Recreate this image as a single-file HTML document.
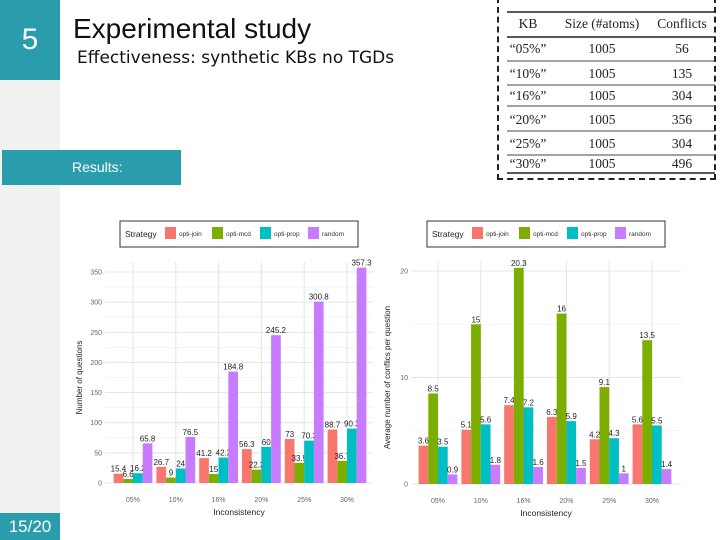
<!DOCTYPE html>
<html><head><meta charset="utf-8"><style>
body{margin:0;width:720px;height:540px;overflow:hidden;background:#fff;font-family:"Liberation Sans",sans-serif;position:relative}
.abs{position:absolute}
</style></head><body>
<div class="abs" style="left:0;top:0;width:60px;height:540px;background:#f1f1f1"></div>
<div class="abs" style="left:0;top:0;width:60px;height:80px;background:#2a9dad;color:#fff;font-size:30px;text-align:center;line-height:80px">5</div>
<div class="abs" style="left:73px;top:13px;font-size:28px;color:#111">Experimental study</div>
<div class="abs" style="left:77px;top:48px;font-size:17px;color:#111;font-family:'DejaVu Sans',sans-serif;letter-spacing:0px">Effectiveness: synthetic KBs no TGDs</div>
<div class="abs" style="left:2px;top:150px;width:179px;height:35px;background:#2a9dad;color:#fff;font-size:14px;line-height:35px;text-align:left;padding-left:70px;box-sizing:border-box">Results:</div>
<div class="abs" style="left:0;top:513px;width:60px;height:27px;background:#2a9dad;color:#fff;font-size:17px;text-align:center;line-height:27px;font-weight:300">15/20</div>
<div class="abs" style="left:497px;top:-3px;width:219px;height:183px;border:2px dashed #222;border-top:none;box-sizing:border-box"></div>
<svg class="abs" style="left:0;top:0" width="720" height="540" id="svg"></svg>
<script>
const kbs=["“05%”","“10%”","“16%”","“20%”","“25%”","“30%”"];
const sizes=[1005,1005,1005,1005,1005,1005];
const conflicts=[56,135,304,356,304,496];
const categories=["05%","10%","16%","20%","25%","30%"];
const seriesNames=["opti-join","opti-mcd","opti-prop","random"];
const colors=["#F8766D","#7CAE00","#00BFC4","#C77CFF"];
const qJoin=[15.4,26.7,41.2,56.3,73,88.7];
const qMcd=[6.6,9,15,22.2,33.5,36.7];
const qProp=[16.2,24,42.2,60,70.3,90.3];
const qRandom=[65.8,76.5,184.8,245.2,300.8,357.3];
const cJoin=[3.6,5.1,7.4,6.3,4.2,5.6];
const cMcd=[8.5,15,20.3,16,9.1,13.5];
const cProp=[3.5,5.6,7.2,5.9,4.3,5.5];
const cRandom=[0.9,1.8,1.6,1.5,1,1.4];
const leftTicks=[0,50,100,150,200,250,300,350];
const rightTicks=[0,10,20];

const svg=document.getElementById('svg');
const NS="http://www.w3.org/2000/svg";
function mk(tag,attrs,parent,txt){const e=document.createElementNS(NS,tag);for(const k in attrs)e.setAttribute(k,attrs[k]);if(txt!==undefined)e.textContent=txt;(parent||svg).appendChild(e);return e;}

const tg=mk('g',{});


[12,37,173].forEach(y=>mk('line',{x1:507,x2:715,y1:y,y2:y,stroke:'#222','stroke-width':1.5},tg));
[61,85,106,131,155].forEach(y=>mk('line',{x1:507,x2:715,y1:y,y2:y,stroke:'#444','stroke-width':1},tg));
const colX=[528,602,682];
["KB","Size (#atoms)","Conflicts"].forEach((h,i)=>mk('text',{x:colX[i],y:28,'text-anchor':'middle','font-family':'Liberation Serif,serif','font-size':13.5,fill:'#222'},tg,h));
const rowY=[53,78,100,124,148,168];
kbs.forEach((k,i)=>{
 mk('text',{x:colX[0],y:rowY[i],'text-anchor':'middle','font-family':'Liberation Serif,serif','font-size':13.5,fill:'#222'},tg,k);
 mk('text',{x:colX[1],y:rowY[i],'text-anchor':'middle','font-family':'Liberation Serif,serif','font-size':13.5,fill:'#222'},tg,sizes[i]);
 mk('text',{x:colX[2],y:rowY[i],'text-anchor':'middle','font-family':'Liberation Serif,serif','font-size':13.5,fill:'#222'},tg,conflicts[i]);
});

function chart(o){
 const g=mk('g',{});
 
 
 const yS=v=>o.y0-(v/o.max)*(o.y0-o.yTop);
 const xS=i=>o.c0+i*o.step;
 for(let v=0;v<=o.gmax;v+=o.minor)mk('line',{x1:o.pl,x2:o.pr,y1:yS(v),y2:yS(v),stroke:'#eeeeee','stroke-width':0.6},g);
 o.ticks.forEach(v=>{mk('line',{x1:o.pl,x2:o.pr,y1:yS(v),y2:yS(v),stroke:'#e4e4e4','stroke-width':1},g);
  const t=mk('text',{x:o.pl-3,y:yS(v)+2.5,'text-anchor':'end','font-size':7,fill:'#666'},g,v);
  });
 categories.forEach((c,i)=>{mk('line',{x1:xS(i),x2:xS(i),y1:o.y0+4,y2:o.yTop-10,stroke:'#e4e4e4','stroke-width':1},g);
  const t=mk('text',{x:xS(i),y:o.y0+19,'text-anchor':'middle','font-size':7,fill:'#666'},g,c);
  });
 const bw=9.7;
 o.series.forEach((s,si)=>{s.forEach((v,i)=>{
  const x=xS(i)-2*bw+si*bw;
  const r=mk('rect',{x:x,y:yS(v),width:bw,height:o.y0-yS(v),fill:colors[si]},g);
  
  
  mk('text',{x:x+bw/2,y:yS(v)-2,'text-anchor':'middle','font-size':8,fill:'#222'},g,v);
 });});
 const xt=mk('text',{x:(o.pl+o.pr)/2,y:o.y0+32,'text-anchor':'middle','font-size':8.5,fill:'#222'},g,'Inconsistency');
 
 const yt=mk('text',{x:0,y:0,'text-anchor':'middle','font-size':8,fill:'#222',transform:`translate(${o.ytx},${(o.y0+o.yTop)/2}) rotate(-90)`},g,o.ytitle);
 
 const lg=mk('g',{},g);
 
 mk('rect',{x:o.lx,y:221,width:238,height:26,fill:'#fff',stroke:'#333','stroke-width':1},lg);
 mk('text',{x:o.lx+5,y:237,'font-size':8.5,fill:'#222'},lg,'Strategy');
 const lx=[o.lx+45,o.lx+92,o.lx+140,o.lx+188];
 seriesNames.forEach((n,i)=>{mk('rect',{x:lx[i],y:227,width:11,height:12,fill:colors[i]},lg);
  const t=mk('text',{x:lx[i]+14,y:236,'font-size':6.5,fill:'#333'},lg,n);
  });
}
chart({name:'questions-chart',y0:483,yTop:272,max:350,gmax:350,minor:25,ticks:leftTicks,c0:133,step:42.8,pl:105,pr:373,
 series:[qJoin,qMcd,qProp,qRandom],ytitle:'Number of questions',ytx:82,lx:120});
chart({name:'conflicts-chart',y0:484,yTop:271,max:20,gmax:20,minor:5,ticks:rightTicks,c0:438,step:42.8,pl:411,pr:681,
 series:[cJoin,cMcd,cProp,cRandom],ytitle:'Average number of conflics per question',ytx:390,lx:427});
</script>
</body></html>
